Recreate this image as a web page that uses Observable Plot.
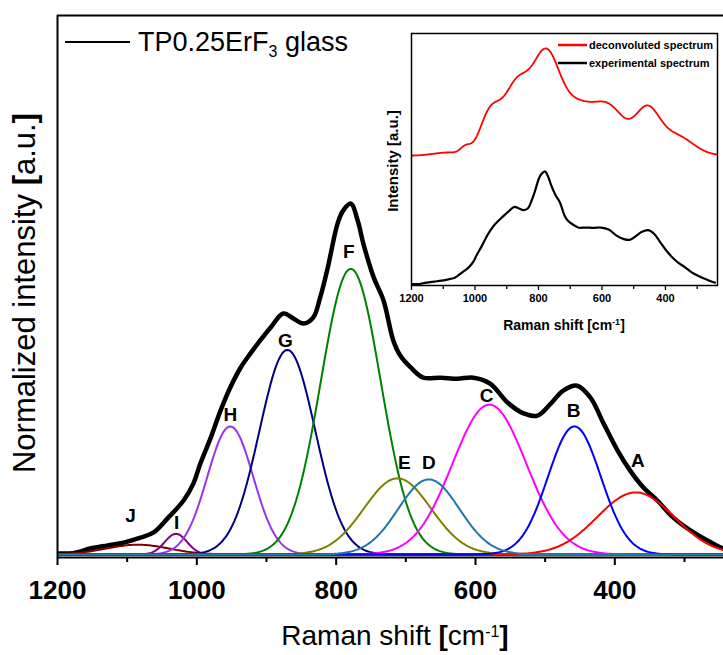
<!DOCTYPE html>
<html><head><meta charset="utf-8">
<script src="https://cdn.jsdelivr.net/npm/d3@7"></script>
<script src="https://cdn.jsdelivr.net/npm/@observablehq/plot@0.6"></script>
<style>
body{margin:0;background:#fff;}
#wrap{position:relative;width:723px;height:655px;overflow:hidden;font-family:"Liberation Sans",Arial,sans-serif;}
#wrap svg{position:absolute;overflow:visible;}
</style></head><body><div id="wrap"></div>
<script>
// Experimental Raman spectrum
const expShift = [1200,1177,1153,1128,1105,1081,1062,1042,1019,1005,995,980,966,952,937,923,909,894,876,861,847,833,823,812,798,790,779,769,761,746,732,718,708,693,675,650,626,603,579,554,531,511,492,474,454,435,416,396,378,359,339,316,291,267,248,244];
const expIntensity = [0.003,0.004,0.017,0.026,0.034,0.048,0.063,0.103,0.154,0.202,0.259,0.333,0.410,0.476,0.533,0.573,0.610,0.647,0.687,0.672,0.658,0.675,0.732,0.818,0.943,0.980,1.000,0.951,0.886,0.789,0.724,0.610,0.567,0.533,0.504,0.504,0.501,0.504,0.487,0.433,0.402,0.396,0.430,0.467,0.481,0.447,0.373,0.296,0.239,0.191,0.154,0.105,0.068,0.040,0.020,0.017];

// Gaussian components of the deconvolution
const peakLabels  = ["A","B","C","D","E","F","G","H","I","J"];
const peakCenters = [370,458,580,667,712,779,870,952,1030,1085];
const peakHeights = [0.177,0.365,0.427,0.214,0.217,0.814,0.583,0.365,0.059,0.028];
const peakWidths  = [55,38,53,44,48,43,40,33,16,45];
const peakColors  = ["#ff0000","#0000ff","#ff00ff","#1f78a8","#808000","#008000","#000080","#9933ee","#800080","#800000"];
const labelShift     = [367,459,584,667,702,782,873,952,1029,1095];
const labelIntensity = [0.268,0.410,0.453,0.262,0.262,0.863,0.610,0.399,0.091,0.111];
const drawOrder = ["J","I","H","G","F","E","C","A","B","D"];

const majorTicks = [1200,1000,800,600,400];
const minorTicks = [1100,900,700,500,300];
const insetOffset = 1.14;

const FONT = '"Liberation Sans", Arial, sans-serif';
const exp = expShift.map((s,i)=>({shift:s, intensity:expIntensity[i]}));
const grid = d3.range(236, 1201, 2);
const components = peakLabels.flatMap((lab,i)=>grid.map(s=>({peak:lab, shift:s,
  intensity: peakHeights[i]*Math.exp(-((s-peakCenters[i])**2)/(2*peakWidths[i]**2))})));
const deconv = grid.map((s,j)=>({shift:s,
  intensity: d3.sum(peakLabels, (_,i)=>components[i*grid.length+j].intensity) + insetOffset}));
const componentsDrawn = drawOrder.flatMap(lab=>components.filter(d=>d.peak===lab));
const labels = peakLabels.map((t,i)=>({text:t, shift:labelShift[i], intensity:labelIntensity[i]}));

const Y0 = -0.0085, Y1 = 1.536;
const main = Plot.plot({
  width:723, height:655, marginTop:15, marginLeft:57, marginRight:0, marginBottom:98,
  x:{domain:[1200,244], axis:null},
  y:{domain:[Y0,Y1], axis:null},
  color:{type:"ordinal", domain:peakLabels, range:peakColors},
  style:{fontFamily:FONT, background:"transparent"},
  marks:[
    Plot.line(exp,{x:"shift",y:"intensity",stroke:"black",strokeWidth:4.5,curve:"catmull-rom",clip:true}),
    Plot.line(componentsDrawn,{x:"shift",y:"intensity",z:"peak",stroke:"peak",strokeWidth:2,clip:true}),
    Plot.text(labels,{x:"shift",y:"intensity",text:"text",fontSize:19,fontWeight:"bold",fill:"black"}),
    Plot.ruleX([1200],{stroke:"black",strokeWidth:2}),
    Plot.ruleY([Y0,Y1],{stroke:"black",strokeWidth:2}),
    Plot.axisX({ticks:majorTicks,tickSize:8,tickPadding:15,fontSize:26,tickFormat:"d",label:null,strokeWidth:2}),
    Plot.axisX({ticks:minorTicks,tickSize:5,tickFormat:()=>"",label:null,strokeWidth:2})
  ]
});
main.style.left="0px"; main.style.top="0px";
d3.select(main).selectAll('g[aria-label="x-axis tick label"]').attr("font-weight","bold").attr("fill","black");

const IW=353, IH=320;
const inset = Plot.plot({
  width:IW, height:IH, marginTop:8, marginLeft:41, marginRight:6, marginBottom:60,
  x:{domain:[1200,236], axis:null},
  y:{domain:[-0.0088,2.221], axis:null},
  style:{fontFamily:FONT, background:"transparent"},
  marks:[
    Plot.line(exp,{x:"shift",y:"intensity",stroke:"black",strokeWidth:2.2,curve:"catmull-rom",clip:true}),
    Plot.line(deconv,{x:"shift",y:"intensity",stroke:"#ff0000",strokeWidth:1.8,clip:true}),
    Plot.frame({stroke:"black",strokeWidth:1.5}),
    Plot.axisX({ticks:majorTicks,tickSize:5,tickPadding:4,fontSize:11,tickFormat:"d",label:null,strokeWidth:1.3}),
    Plot.axisX({ticks:minorTicks,tickSize:4,tickFormat:()=>"",label:null,strokeWidth:1.3})
  ]
});
inset.style.left="370px"; inset.style.top="25px";
d3.select(inset).selectAll('g[aria-label="x-axis tick label"]').attr("font-weight","bold").attr("fill","black");

const wrap = document.getElementById("wrap");
wrap.appendChild(main);
wrap.appendChild(inset);

function addText(svg, parts, attrs){
  const t = d3.select(svg).append("text").attr("font-family",FONT).attr("fill","black").attr("text-anchor","start");
  for (const k in attrs) t.attr(k, attrs[k]);
  for (const p of parts){
    const s = t.append("tspan").text(p.t);
    if (p.bold) s.attr("font-weight","bold");
    if (p.size) s.attr("font-size", p.size);
    if (p.shift) s.attr("baseline-shift", p.shift);
  }
  return t;
}
// main axis titles
addText(main,[{t:"Raman shift "},{t:"[",bold:true},{t:"cm"},{t:"-1",size:16,shift:"super"},{t:"]",bold:true}],
  {x:395,y:645,"text-anchor":"middle","font-size":28});
addText(main,[{t:"Normalized intensity "},{t:"[",bold:true},{t:"a.u.",},{t:"]",bold:true}],
  {transform:"translate(35,293) rotate(-90)","text-anchor":"middle","font-size":31});
// main legend
d3.select(main).append("line").attr("x1",65).attr("x2",130).attr("y1",42).attr("y2",42).attr("stroke","black").attr("stroke-width",2.2);
addText(main,[{t:"TP0.25ErF"},{t:"3",size:16,shift:"-35%"},{t:" glass"}],{x:138,y:51,"font-size":27});

// inset texts (coordinates local to inset svg)
addText(inset,[{t:"Raman shift [cm"},{t:"-1",size:9,shift:"super"},{t:"]"}],
  {x:194,y:305,"text-anchor":"middle","font-size":14,"font-weight":"bold"});
addText(inset,[{t:"Intensity [a.u.]"}],
  {transform:"translate(28,136) rotate(-90)","text-anchor":"middle","font-size":15,"font-weight":"bold"});
const lg = d3.select(inset);
lg.append("line").attr("x1",188).attr("x2",217).attr("y1",20).attr("y2",20).attr("stroke","#ff0000").attr("stroke-width",2.5);
lg.append("line").attr("x1",188).attr("x2",217).attr("y1",38).attr("y2",38).attr("stroke","black").attr("stroke-width",2.5);
addText(inset,[{t:"deconvoluted spectrum"}],{x:219,y:24,"font-size":11,"font-weight":"bold"});
addText(inset,[{t:"experimental spectrum"}],{x:219,y:42,"font-size":11,"font-weight":"bold"});
</script></body></html>
